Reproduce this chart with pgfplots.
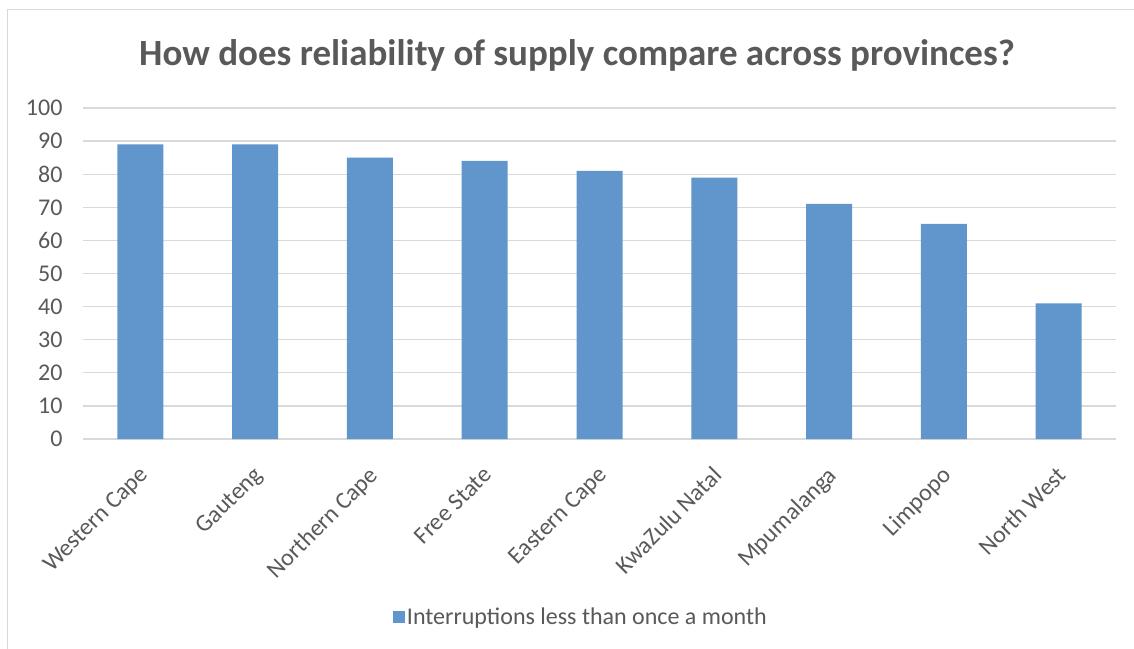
\documentclass[border=0pt]{standalone}
\usepackage{fontspec}
\setmainfont{Carlito}
\usepackage{pgfplots}
\pgfplotsset{compat=1.18}
\definecolor{barblue}{HTML}{6096CC}
\definecolor{txtgray}{HTML}{595959}
\definecolor{gridgray}{HTML}{D9D9D9}
\begin{document}
\begin{tikzpicture}
\useasboundingbox (0pt,0pt) rectangle (1134pt,648pt);
% chart frame
\draw[gridgray, line width=1.5pt] (7.5pt,-5pt) -- (7.5pt,638.5pt) -- (1140pt,638.5pt);
\node[txtgray, font=\fontsize{37}{44}\selectfont\bfseries] at (577pt,593pt)
  {How does reliability of supply compare across provinces?};
\begin{axis}[
  at={(83pt,209pt)}, anchor=south west,
  scale only axis, width=1033pt, height=331pt,
  xmin=-0.5, xmax=8.5, ymin=0, ymax=100,
  ytick={0,10,...,100},
  xtick={0,...,8},
  xticklabels={Western Cape, Gauteng, Northern Cape, Free State, Eastern Cape,
    KwaZulu Natal, Mpumalanga, Limpopo, North West},
  axis line style={draw=none},
  major tick length=0pt,
  ymajorgrids, grid style={gridgray, line width=1.3pt},
  ticklabel style={text=txtgray, font=\fontsize{24}{29}\selectfont},
  /pgf/number format/assume math mode=true,
  yticklabel style={xshift=-17pt},
  xticklabel style={rotate=45, anchor=north east, xshift=-17pt, yshift=-13pt},
  ybar, bar width=46pt,
  legend style={at={(0.482,-0.538)}, anchor=center, draw=none,
    font=\fontsize{24}{29}\selectfont, text=txtgray},
  legend image code/.code={\fill[barblue] (0pt,-6pt) rectangle (12pt,6pt);},
]
\addplot[fill=barblue, draw=none] coordinates {
  (0,89) (1,89) (2,85) (3,84) (4,81) (5,79) (6,71) (7,65) (8,41)};
\addlegendentry{Interruptions less than once a month}
\end{axis}
\end{tikzpicture}
\end{document}
